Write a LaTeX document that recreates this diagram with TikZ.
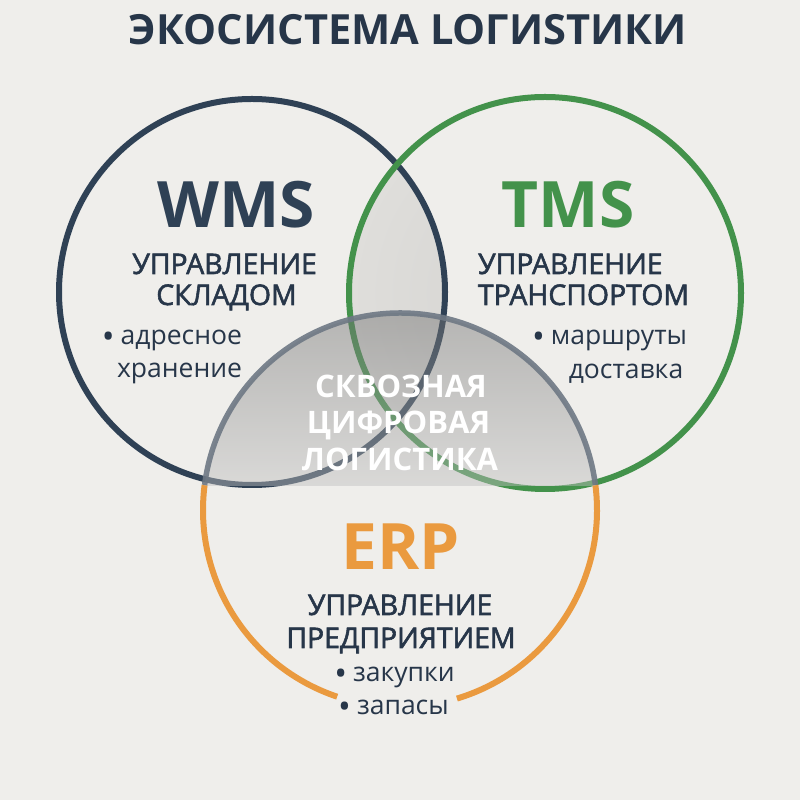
\documentclass[tikz,border=0pt]{standalone}
\usepackage{fontspec}
\setmainfont{Open Sans}
\newfontfamily\semib{Open Sans}[FakeBold=2]
\newcommand{\bul}{\raisebox{-4pt}{\fontsize{34}{34}\selectfont•}\hspace{6pt}}
\definecolor{bg}{HTML}{EFEEEB}
\definecolor{navy}{HTML}{2F4155}
\definecolor{tnavy}{HTML}{273649}
\definecolor{tgreen}{HTML}{43924B}
\definecolor{torange}{HTML}{EA9A3F}
\definecolor{arcgray}{HTML}{6E7884}
\definecolor{lensgray}{HTML}{DFDEDB}
\tikzset{
  x=1pt, y=1pt,
  txt/.style={inner sep=0pt, outer sep=0pt, anchor=base},
  ttl/.style={txt, font=\bfseries\fontsize{41.6}{42}\selectfont, text=tnavy},
  big/.style={txt, font=\bfseries\fontsize{64}{64}\selectfont},
  sub/.style={txt, font=\semib\fontsize{28.4}{28}\selectfont, text=tnavy},
  item/.style={txt, font=\fontsize{26.5}{27}\selectfont, text=tnavy},
  mid/.style={txt, font=\bfseries\fontsize{31}{31}\selectfont, text=white},
  ring/.style={line width=6pt},
}
\begin{document}
\begin{tikzpicture}
\useasboundingbox (0,0) rectangle (800,800);
\fill[bg] (0,0) rectangle (800,800);

% circle centres
\coordinate (wc) at (252,508);
\coordinate (tc) at (545,507);
\coordinate (ec) at (400,290);

% lens WMS & TMS
\begin{scope}
  \clip (wc) circle (193);
  \shade[inner color=lensgray!88!gray, outer color=lensgray] (tc) circle (196);
\end{scope}

% WMS and TMS rings
\draw[ring, navy] (wc) circle (193);
\draw[ring, tgreen] (tc) circle (196);

% ERP orange arcs
\draw[ring, torange] ([shift={(172.7:197)}]ec) arc[start angle=172.7, end angle=251.4, radius=197];
\draw[ring, torange] ([shift={(286.8:197)}]ec) arc[start angle=286.8, end angle=367.3, radius=197];

% grey segment of ERP
\begin{scope}
  \clip (ec) circle (197);
  \shade[top color=gray!85!black, bottom color=gray!50, fill opacity=0.45] (180,314) rectangle (620,495);
\end{scope}
\draw[line width=5.5pt, arcgray, opacity=0.9] ([shift={(7.3:197)}]ec) arc[start angle=7.3, end angle=172.7, radius=197];

% title
\node[ttl] (title) at (408,755) {ЭКОСИСТЕМА LOГИSТИКИ};

% WMS
\node[big, text=navy] (wms) at (236,572) {WMS};
\node[sub] (wms1) at (224.5,526) {УПРАВЛЕНИЕ};
\node[sub] (wms2) at (226.5,495) {СКЛАДОМ};
\node[item, anchor=base east] (wmsa) at (242,455) {\bul адресное};
\node[item, anchor=base east] (wmsb) at (242,422) {хранение};

% TMS
\node[big, text=tgreen] (tms) at (568,572) {TMS};
\node[sub, anchor=base west] (tms1) at (478,526) {УПРАВЛЕНИЕ};
\node[sub, anchor=base west] (tms2) at (478,495) {ТРАНСПОРТОМ};
\node[item, anchor=base east] (tmsa) at (687,455) {\bul маршруты};
\node[item] (tmsb) at (626,421) {доставка};

% centre
\node[mid] (c1) at (401,402) {СКВОЗНАЯ};
\node[mid] (c2) at (398.5,366) {ЦИФРОВАЯ};
\node[mid] (c3) at (400,329) {ЛОГИСТИКА};

% ERP
\node[big, text=torange] (erp) at (401,230) {ERP};
\node[sub] (erp1) at (400,185) {УПРАВЛЕНИЕ};
\node[sub] (erp2) at (401,152) {ПРЕДПРИЯТИЕМ};
\node[item] (erpa) at (394.5,118) {\bul закупки};
\node[item] (erpb) at (393.5,85) {\bul запасы};
\end{tikzpicture}
\end{document}
